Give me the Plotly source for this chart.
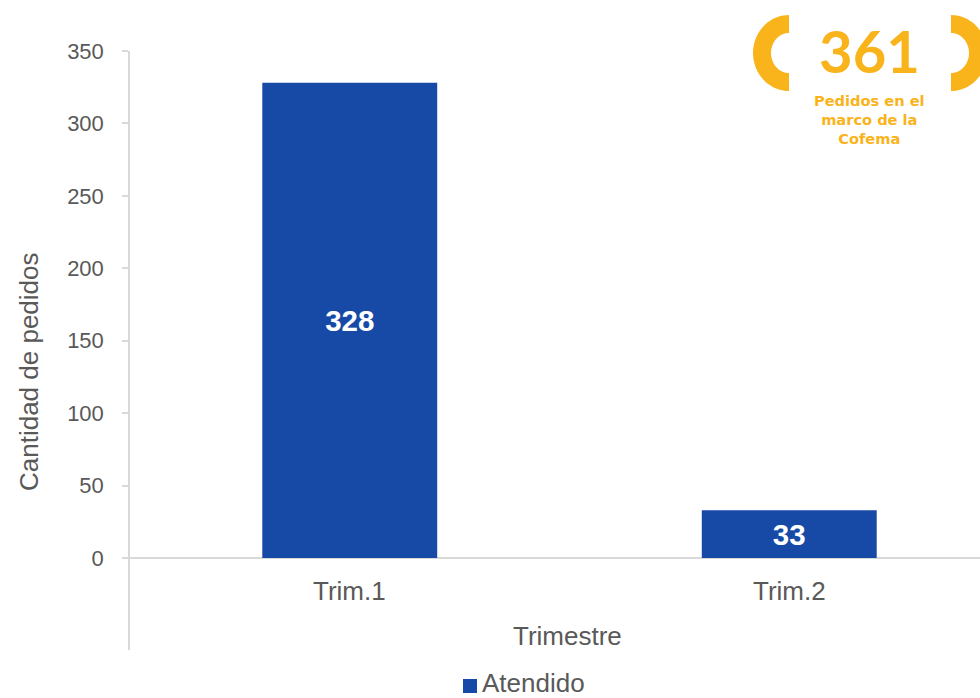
import numpy as np
import plotly.graph_objects as go

categories = ["Trim.1", "Trim.2"]
atendido = [328, 33]
series_name = "Atendido"
y_ticks = [0, 50, 100, 150, 200, 250, 300, 350]
badge_total = "361"
badge_lines = ["Pedidos en el", "marco de la", "Cofema"]

BLUE = "#164AA6"
YELLOW = "#F9B31B"
GREY = "#595959"
AXIS = "#D9D9D9"
FONT = "Liberation Sans, Arial, sans-serif"

W, H = 980, 698
L, R_PX, T, B_PX = 130, 980, 51, 650

def px2paper(px, py):
    return (px - L) / (R_PX - L), (B_PX - py) / (B_PX - T)

def bracket_path(cx, cy, side):
    ro_x, ro_y = 36, 38
    ri_x, ri_y = 18, 20
    th = np.linspace(-np.pi / 2, np.pi / 2, 40)
    outer = [(cx + side * ro_x * np.cos(t), cy + ro_y * np.sin(t)) for t in th]
    inner = [(cx + side * ri_x * np.cos(t), cy + ri_y * np.sin(t)) for t in th[::-1]]
    pts = outer + inner
    segs = []
    for i, (x, y) in enumerate(pts):
        xp, yp = px2paper(x, y)
        segs.append(("M" if i == 0 else "L") + f"{xp:.5f},{yp:.5f}")
    return " ".join(segs) + " Z"

fig = go.Figure()
fig.add_trace(go.Bar(
    x=categories, y=atendido, name=series_name, width=0.398,
    marker=dict(color=BLUE, line=dict(width=0)),
    text=[str(v) for v in atendido], textposition="inside",
    insidetextanchor="middle",
    textfont=dict(family=FONT, size=29.5, color="white", weight="bold"),
    showlegend=False,
))

annotations = []
for c in categories:
    annotations.append(dict(x=c, y=0, xref="x", yref="y", text=c, showarrow=False,
                            yanchor="middle", yshift=-33,
                            font=dict(family=FONT, size=26, color=GREY)))
ax, ay = px2paper(567, 636)
annotations.append(dict(x=ax, y=ay, xref="paper", yref="paper", text="Trimestre",
                        showarrow=False, xanchor="center", yanchor="middle",
                        font=dict(family=FONT, size=26, color=GREY)))
ax, ay = px2paper(29, 372)
annotations.append(dict(x=ax, y=ay, xref="paper", yref="paper", text="Cantidad de pedidos",
                        showarrow=False, textangle=-90, xanchor="center", yanchor="middle",
                        font=dict(family=FONT, size=26, color=GREY)))
ax, ay = px2paper(480, 683)
annotations.append(dict(x=ax, y=ay, xref="paper", yref="paper", text=series_name,
                        showarrow=False, xanchor="left", yanchor="middle",
                        font=dict(family=FONT, size=26, color=GREY)))
ax, ay = px2paper(869, 50)
annotations.append(dict(x=ax, y=ay, xref="paper", yref="paper", text=f"<b>{badge_total}</b>",
                        showarrow=False, xanchor="center", yanchor="middle",
                        font=dict(family="Lato, sans-serif", size=58, color=YELLOW)))
ax, ay = px2paper(869, 120)
annotations.append(dict(x=ax, y=ay, xref="paper", yref="paper",
                        text="<br>".join(f"<b>{s}</b>" for s in badge_lines),
                        showarrow=False, xanchor="center", yanchor="middle", align="center",
                        font=dict(family="DejaVu Sans, sans-serif", size=14.6, color=YELLOW)))

shapes = []
x0, y0 = px2paper(463, 679)
x1, y1 = px2paper(477, 693)
shapes.append(dict(type="rect", xref="paper", yref="paper", x0=x0, y0=y0, x1=x1, y1=y1,
                   fillcolor=BLUE, line=dict(width=0)))
shapes.append(dict(type="path", xref="paper", yref="paper", path=bracket_path(789, 53, -1),
                   fillcolor=YELLOW, line=dict(width=0)))
shapes.append(dict(type="path", xref="paper", yref="paper", path=bracket_path(951, 53, 1),
                   fillcolor=YELLOW, line=dict(width=0)))

fig.update_layout(
    width=W, height=H,
    margin=dict(l=L, r=0, t=T, b=H - B_PX, pad=0),
    paper_bgcolor="white", plot_bgcolor="white",
    font=dict(family=FONT, color=GREY),
    xaxis=dict(type="category", range=[-0.5, 1.434], showticklabels=False, ticks="",
               showgrid=False, showline=False, zeroline=False),
    yaxis=dict(range=[-63.5, 350], tickvals=y_ticks, ticktext=[str(v) for v in y_ticks],
               ticks="outside", ticklen=6, tickcolor=AXIS, tickwidth=1.5,
               showline=True, linecolor=AXIS, linewidth=1.5, showgrid=False,
               zeroline=True, zerolinecolor=AXIS, zerolinewidth=1.5,
               tickfont=dict(family=FONT, size=22, color=GREY), ticklabelstandoff=14),
    annotations=annotations, shapes=shapes,
)
fig.write_html("out.html", config={"displayModeBar": False},
               post_script="document.body.style.margin='0px';document.body.style.overflow='hidden';")
